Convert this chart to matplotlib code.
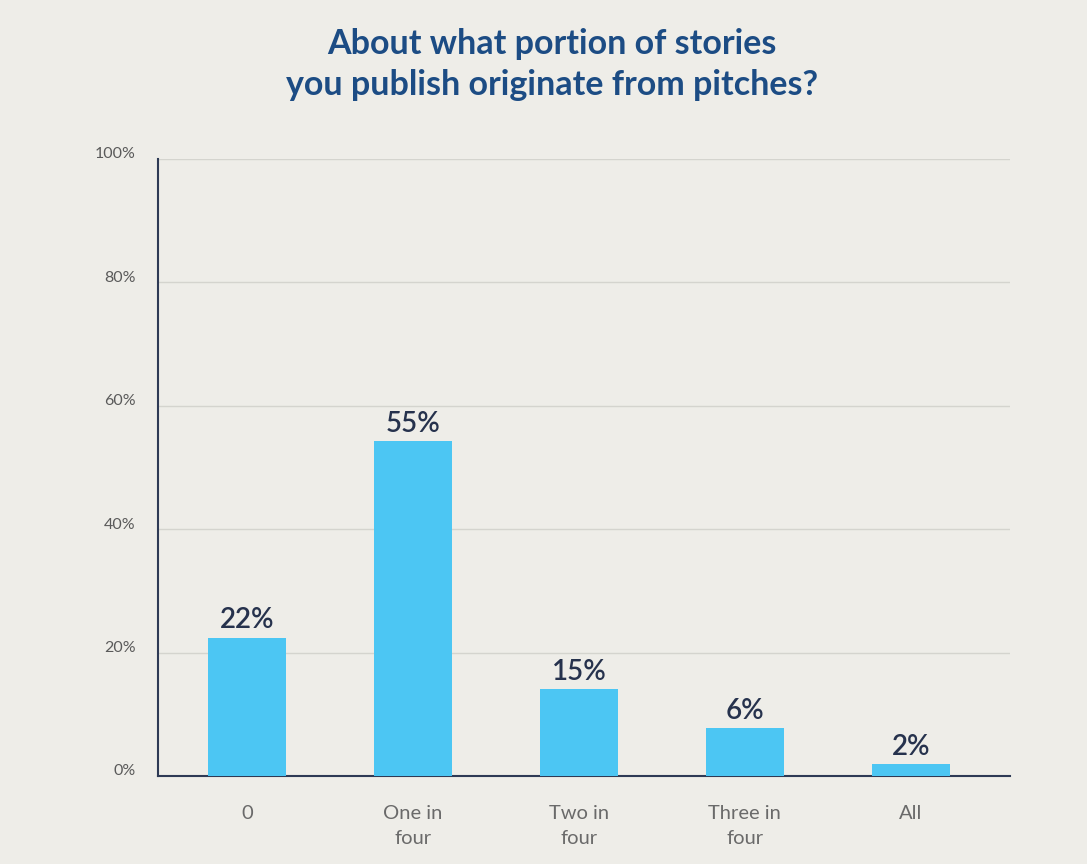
import matplotlib.pyplot as plt
import matplotlib.transforms as mtransforms

categories = ["0", "One in\nfour", "Two in\nfour", "Three in\nfour", "All"]
bar_values = [22.4, 54.3, 14.1, 7.8, 1.9]
value_labels = ["22%", "55%", "15%", "6%", "2%"]
y_ticks = [0, 20, 40, 60, 80, 100]
y_tick_labels = ["0%", "20%", "40%", "60%", "80%", "100%"]

bg = "#EEEDE8"
plt.rcParams["font.family"] = ["Lato", "DejaVu Sans"]

fig = plt.figure(figsize=(10.87, 8.64), dpi=100, facecolor=bg)
ax = fig.add_axes([0.1454, 0.1019, 0.7836, 0.7141])
ax.set_facecolor(bg)

x = list(range(len(categories)))
ax.bar(x, bar_values, width=0.47, color="#4CC6F3", zorder=3)

# value labels above bars
for xi, v, lab in zip(x, bar_values, value_labels):
    ax.text(xi, v + 0.7, lab, ha="center", va="bottom", fontsize=20,
            fontweight="semibold", color="#26324D", zorder=4)

ax.set_xlim(-0.536, 4.596)
ax.set_ylim(0, 100)
ax.set_yticks(y_ticks)
ax.set_yticklabels(y_tick_labels)
ax.set_xticks(x)
ax.set_xticklabels(categories, linespacing=1.55)

ax.grid(axis="y", color="#D4D4CE", linewidth=1, zorder=0)
for side in ["top", "right"]:
    ax.spines[side].set_visible(False)
for side in ["left", "bottom"]:
    ax.spines[side].set_color("#2E3A55")
    ax.spines[side].set_linewidth(1.5)

ax.tick_params(axis="y", length=0, pad=16, labelsize=11.5, labelcolor="#5A5A5A")
ax.tick_params(axis="x", length=0, pad=21, labelsize=14.5, labelcolor="#6A6A6A")

# lift y tick labels slightly above gridlines
offset = mtransforms.ScaledTranslation(0, 6 / 100, fig.dpi_scale_trans)
for lbl in ax.get_yticklabels():
    lbl.set_transform(lbl.get_transform() + offset)

fig.text(0.508, 0.925, "About what portion of stories\nyou publish originate from pitches?",
         ha="center", va="center", fontsize=24.5, fontweight="bold",
         color="#1C4C84", linespacing=1.35)

fig.savefig("out.png", dpi=100, facecolor=bg)
